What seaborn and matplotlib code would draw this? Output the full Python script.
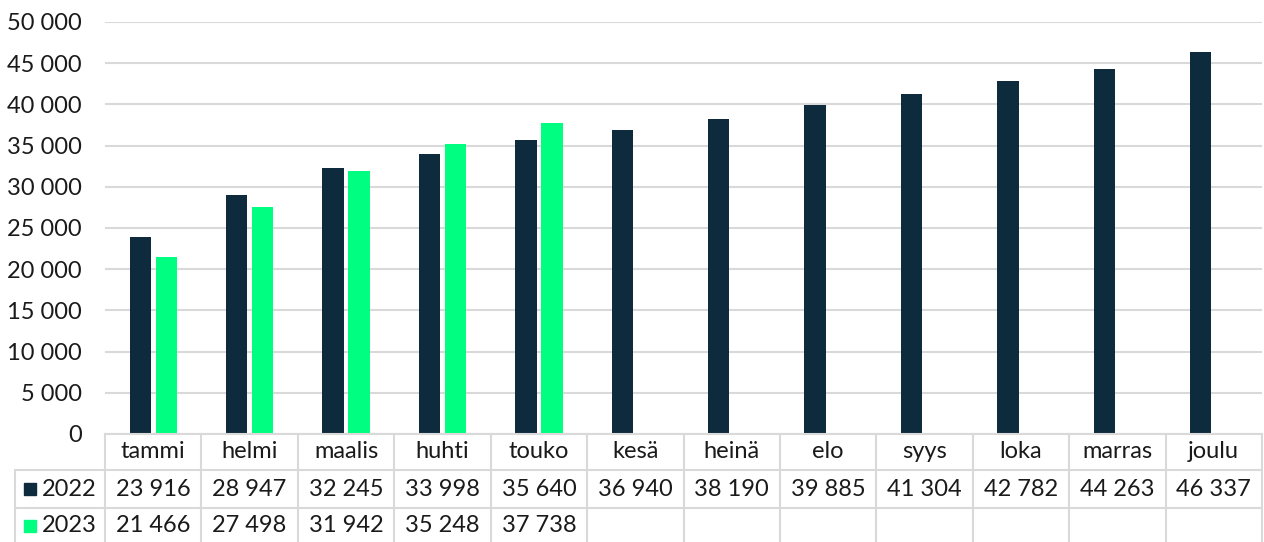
import matplotlib
matplotlib.use("Agg")
import matplotlib.pyplot as plt
import matplotlib.transforms as mtransforms
import seaborn as sns
import pandas as pd
import numpy as np

months = ["tammi", "helmi", "maalis", "huhti", "touko", "kesä", "heinä", "elo", "syys", "loka", "marras", "joulu"]
values_2022 = [23916, 28947, 32245, 33998, 35640, 36940, 38190, 39885, 41304, 42782, 44263, 46337]
values_2023 = [21466, 27498, 31942, 35248, 37738]
years = ["2022", "2023"]
colors = {"2022": "#0E2A3D", "2023": "#00FF80"}
yticks = list(range(0, 50001, 5000))

rows = []
for m, v in zip(months, values_2022):
    rows.append({"kk": m, "vuosi": "2022", "arvo": v})
for m, v in zip(months, values_2023):
    rows.append({"kk": m, "vuosi": "2023", "arvo": v})
df = pd.DataFrame(rows)

sns.set_style("white")
plt.rcParams["font.family"] = ["Lato", "DejaVu Sans"]

FS = 17
TXT = "#1a1a1a"
W, H = 1264, 542
fig = plt.figure(figsize=(W / 100, H / 100), dpi=100)
left, right, top, bottom = 105, 1262, 22, 434
ax = fig.add_axes([left / W, 1 - bottom / H, (right - left) / W, (bottom - top) / H])

sns.barplot(data=df, x="kk", y="arvo", hue="vuosi", order=months, hue_order=years,
            palette=colors, width=0.54, gap=0.18, ax=ax, legend=False,
            saturation=1, edgecolor="none")

ax.set_xlim(-0.5, 11.5)
ax.set_ylim(0, 50000)
ax.set_yticks(yticks)
ax.set_yticklabels([f"{t:,}".replace(",", " ") for t in yticks], fontsize=FS, color=TXT)
ax.tick_params(axis="y", length=0, pad=16.5)
ax.set_xticks([])
ax.set_xlabel("")
ax.set_ylabel("")
ax.grid(axis="y", color="#D9D9D9", linewidth=1.5)
ax.set_axisbelow(True)
for s in ["top", "right", "left"]:
    ax.spines[s].set_visible(False)
ax.spines["bottom"].set_color("#D9D9D9")
ax.spines["bottom"].set_linewidth(1.5)

# data table
axh = bottom - top
def fy(py):
    return (bottom - py) / axh
def fx(px):
    return (px - left) / (right - left)

lc = "#D9D9D9"
trans = mtransforms.blended_transform_factory(ax.transData, ax.transAxes)
for i in range(13):
    ax.plot([i - 0.5, i - 0.5], [fy(434), fy(542)], color=lc, lw=1.5, transform=trans, clip_on=False)
ax.plot([fx(15), fx(15)], [fy(470), fy(542)], color=lc, lw=1.5, transform=ax.transAxes, clip_on=False)
for py in (470, 508):
    ax.plot([fx(15), 1], [fy(py), fy(py)], color=lc, lw=1.5, transform=ax.transAxes, clip_on=False)

row_y = {"head": fy(452), "2022": fy(489), "2023": fy(526)}
for i, m in enumerate(months):
    ax.text(i, row_y["head"], m, ha="center", va="center", fontsize=FS, color=TXT,
            transform=trans, clip_on=False)
for i, v in enumerate(values_2022):
    ax.text(i, row_y["2022"], f"{v:,}".replace(",", " "), ha="center", va="center", fontsize=FS,
            color=TXT, transform=trans, clip_on=False)
for i, v in enumerate(values_2023):
    ax.text(i, row_y["2023"], f"{v:,}".replace(",", " "), ha="center", va="center", fontsize=FS,
            color=TXT, transform=trans, clip_on=False)

for yr in years:
    ax.plot([fx(30)], [row_y[yr]], marker="s", markersize=9, color=colors[yr],
            transform=ax.transAxes, clip_on=False, linestyle="none")
    ax.text(fx(42), row_y[yr], yr, ha="left", va="center", fontsize=FS, color=TXT,
            transform=ax.transAxes, clip_on=False)

fig.savefig("out.png", dpi=100, facecolor="white")
